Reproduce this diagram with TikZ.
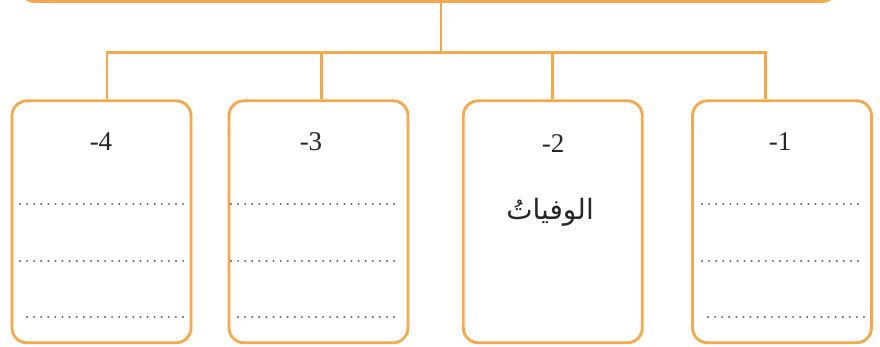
\documentclass[tikz,border=0pt]{standalone}
\usepackage{fontspec}
\setmainfont{Liberation Serif}
\newfontfamily\arabicfont[Script=Arabic]{DejaVu Sans}
\TeXXeTstate=1
\definecolor{boxorange}{RGB}{245,168,76}
\definecolor{dotgray}{RGB}{95,95,95}
\begin{document}
\begin{tikzpicture}[x=1pt,y=-1pt,
  frame/.style={draw=boxorange,line width=2.8pt,rounded corners=15pt},
  link/.style={draw=boxorange,line width=2.8pt},
  catbox/.style={frame,rectangle,minimum width=179pt,minimum height=242pt,inner sep=0pt},
  numlabel/.style={font=\fontsize{27}{30}\selectfont,text=black!85,inner sep=0pt},
  dotline/.style={draw=dotgray,line width=2.3pt,line cap=round,dash pattern=on 0.01pt off 7.08pt}]
\useasboundingbox (0,0) rectangle (880,347);
\clip (0,0) rectangle (880,347);
% top box (cut off)
\node[frame,rectangle,minimum width=817pt,minimum height=60pt,inner sep=0pt] (top) at (428.5,-28.5) {};
% category boxes
\node[catbox] (b4) at (101.5,221.8) {};
\node[catbox] (b3) at (318.5,221.8) {};
\node[catbox] (b2) at (552.8,221.8) {};
\node[catbox] (b1) at (782,221.8) {};
% connectors
\coordinate (j) at (441,52.3);
\coordinate (d4) at (107,52.3);
\coordinate (d3) at (321.5,52.3);
\coordinate (d2) at (552.3,52.3);
\coordinate (d1) at (765.7,52.3);
\draw[link] (top.south -| j) -- (j);
\draw[link,line cap=rect] (d4) -- (d1);
\draw[link] (d4) -- (d4 |- b4.north);
\draw[link] (d3) -- (d3 |- b3.north);
\draw[link] (d2) -- (d2 |- b2.north);
\draw[link] (d1) -- (d1 |- b1.north);
% numbers
\node[numlabel] (n4) at (101,142) {-4};
\node[numlabel] (n3) at (311,142) {-3};
\node[numlabel] (n2) at (553,144) {-2};
\node[numlabel] (n1) at (780,142) {-1};
% arabic text
\node[font=\arabicfont\fontsize{28}{32}\selectfont,text=black!85,inner sep=0pt] (ar) at (550,212) {\beginR الوفياتُ\endR};
% dotted answer lines
\foreach \xa/\xb/\xc in {20/184/27, 231/395/238, 702/865/708}{
  \draw[dotline] (\xa,204.3) -- (\xb,204.3);
  \draw[dotline] (\xa,260.7) -- (\xb,260.7);
  \draw[dotline] (\xc,316.7) -- (\xb,316.7);
}
\end{tikzpicture}
\end{document}
